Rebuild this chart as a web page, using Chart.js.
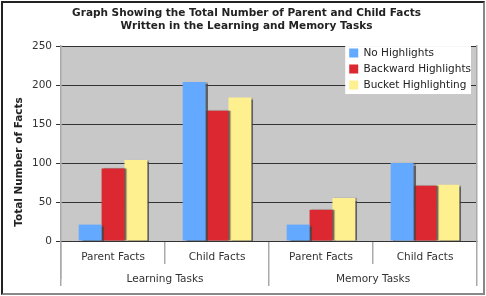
<!DOCTYPE html>
<html>
<head>
<meta charset="utf-8">
<script src="https://cdn.jsdelivr.net/npm/chart.js@4"></script>
<style>
  html, body { margin: 0; padding: 0; background: #fff; }
  #frame {
    position: absolute; left: 1px; top: 1px;
    width: 480px; height: 290px;
    border-style: solid; border-width: 2px;
    border-color: #222 #888 #888 #222;
  }
  canvas { display: block; }
</style>
</head>
<body>
<div id="frame"><canvas id="chart" width="480" height="290"></canvas></div>
<script>
const categories = ['Parent Facts', 'Child Facts', 'Parent Facts', 'Child Facts'];
const taskGroups = ['Learning Tasks', 'Memory Tasks'];
const noHighlights = [21, 204, 21, 100];
const backwardHighlights = [93, 167, 40, 71];
const bucketHighlighting = [104, 184, 55, 72];
const yMax = 250;
const yStep = 50;

const font = 'DejaVu Sans';

// grey plot background
const plotBg = {
  id: 'plotBg',
  beforeDraw(chart) {
    const a = chart.chartArea, ctx = chart.ctx;
    ctx.save();
    ctx.fillStyle = '#c8c8c8';
    ctx.fillRect(a.left, a.top, a.width, a.height);
    ctx.restore();
  }
};

// bars get a thin grey drop shadow on the right
const barShadow = {
  id: 'barShadow',
  beforeDatasetsDraw(chart) {
    const ctx = chart.ctx;
    ctx.save();
    ctx.shadowColor = 'rgba(70,70,70,0.8)';
    ctx.shadowOffsetX = 2;
    ctx.shadowOffsetY = 0;
    ctx.shadowBlur = 1;
  },
  afterDatasetsDraw(chart) {
    chart.ctx.restore();
  }
};

// legend floats over the top right corner of the plot, on white.
// title sits a bit right of the canvas middle, y title a bit low,
// like the original
const floatLegend = {
  id: 'floatLegend',
  afterLayout(chart) {
    const lg = chart.legend, a = chart.chartArea;
    const w = lg.width, h = lg.height;
    lg.left = a.right - w + 4;
    lg.right = lg.left + w;
    lg.top = a.top - 5;
    lg.bottom = lg.top + h;
    chart.titleBlock.left = 13;
    chart.scales.y.bottom = a.bottom + 37;
  },
  afterDatasetsDraw(chart) {
    const lg = chart.legend, a = chart.chartArea, ctx = chart.ctx;
    ctx.save();
    ctx.fillStyle = '#fff';
    ctx.fillRect(lg.left + 1.5, a.top, a.right - 6 - lg.left - 1.5, 48);
    ctx.restore();
    lg.draw();
  }
};

new Chart(document.getElementById('chart'), {
  type: 'bar',
  data: {
    labels: categories,
    datasets: [
      { label: 'No Highlights', data: noHighlights, backgroundColor: '#63a9ff', borderWidth: 0 },
      { label: 'Backward Highlights', data: backwardHighlights, backgroundColor: '#dc2830', borderWidth: 0 },
      { label: 'Bucket Highlighting', data: bucketHighlighting, backgroundColor: '#fff08f', borderWidth: 0 },
    ],
  },
  plugins: [plotBg, barShadow, floatLegend],
  options: {
    responsive: false,
    animation: false,
    events: [],
    categoryPercentage: 0.66,
    barPercentage: 1.0,
    layout: { padding: { left: 0, right: 6, top: 0, bottom: 7 } },
    plugins: {
      title: {
        display: true,
        text: ['Graph Showing the Total Number of Parent and Child Facts', 'Written in the Learning and Memory Tasks'],
        color: '#222',
        font: { family: font, size: 10.5, weight: 'bold', lineHeight: 1.24 },
        padding: { top: 3.5, bottom: 13.5 },
      },
      legend: {
        position: 'chartArea',
        maxHeight: 56,
        labels: {
          boxWidth: 9,
          boxHeight: 9,
          padding: 5.5,
          color: '#222',
          font: { family: font, size: 10.5 },
        },
      },
      tooltip: { enabled: false },
    },
    scales: {
      x: {
        position: 'bottom',
        offset: true,
        grid: { offset: true, drawOnChartArea: false, color: '#aaa', lineWidth: 1.5, tickLength: 23 },
        border: { display: true, color: '#333', width: 1 },
        ticks: { color: '#333', padding: -13.3, font: { family: font, size: 10.5 } },
        afterFit(scale) { scale.height = 23; },
      },
      x2: {
        type: 'category',
        position: 'bottom',
        labels: taskGroups,
        offset: true,
        grid: { offset: true, drawOnChartArea: false, color: '#aaa', lineWidth: 1.5, tickLength: 22 },
        border: { display: false },
        ticks: { color: '#333', padding: -13, font: { family: font, size: 10.5 } },
        afterFit(scale) { scale.height = 22; },
      },
      y: {
        min: 0,
        max: yMax,
        grid: { color: '#333', lineWidth: 1, tickLength: 5 },
        border: { display: true, color: '#aaa', width: 1.5 },
        ticks: { stepSize: yStep, color: '#333', padding: 4, font: { family: font, size: 10.5 } },
        title: {
          display: true,
          text: 'Total Number of Facts',
          color: '#222',
          font: { family: font, size: 10.5, weight: 'bold' },
          padding: { top: 9.7, bottom: 2.7 },
        },
      },
      y2: {
        position: 'right',
        grid: { display: false, drawTicks: false },
        border: { display: true, color: '#aaa', width: 1.5 },
        ticks: { display: false },
      },
    },
  },
});
</script>
</body>
</html>
